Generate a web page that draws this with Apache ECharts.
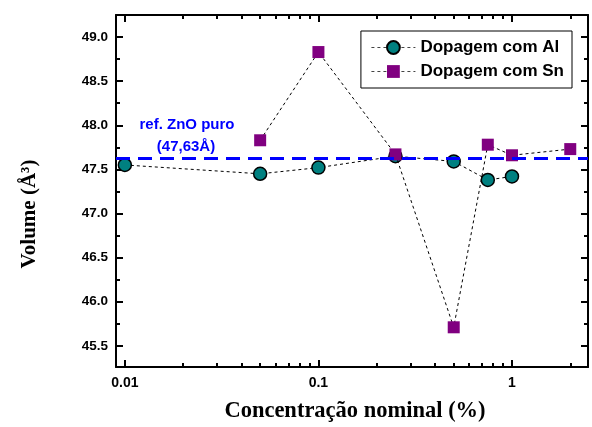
<!DOCTYPE html>
<html>
<head>
<meta charset="utf-8">
<script src="https://cdn.jsdelivr.net/npm/echarts@6/dist/echarts.min.js"></script>
<style>
html,body{margin:0;padding:0;background:#fff;}
#main{width:592px;height:427px;}
</style>
</head>
<body>
<div id="main"></div>
<script>
// dados
var alX = [0.01, 0.05, 0.1, 0.25, 0.5, 0.75, 1];
var alY = [47.55, 47.45, 47.52, 47.65, 47.59, 47.38, 47.42];
var snX = [0.05, 0.1, 0.25, 0.5, 0.75, 1, 2];
var snY = [47.83, 48.83, 47.67, 45.71, 47.78, 47.66, 47.73];
var refZnO = 47.63;

var xMajor = [0.01, 0.1, 1];
var xMinor = [0.02, 0.03, 0.04, 0.05, 0.06, 0.07, 0.08, 0.09,
	0.2, 0.3, 0.4, 0.5, 0.6, 0.7, 0.8, 0.9, 2];
var yMajor = [45.5, 46.0, 46.5, 47.0, 47.5, 48.0, 48.5, 49.0];
var yMinor = [45.75, 46.25, 46.75, 47.25, 47.75, 48.25, 48.75];

var myChart = echarts.init(document.getElementById('main'));

function pairs(xs, ys) {
	var out = [];
	for (var i = 0; i < xs.length; i++) {
		out.push([xs[i], ys[i]]);
	}
	return out;
}

function xAx(pos, ticks, len, showLabel, showLine) {
	return {
		type: 'log',
		logBase: 10,
		position: pos,
		min: 0.009,
		max: 2.47,
		axisLine: {show: showLine, onZero: false, lineStyle: {color: '#000', width: 2}},
		axisTick: {show: true, inside: true, length: len, customValues: ticks,
			lineStyle: {color: '#000', width: 2}},
		axisLabel: {show: showLabel, customValues: xMajor, margin: 9,
			color: '#000', fontFamily: 'Arial', fontWeight: 'bold', fontSize: 14,
			formatter: function (v) { return String(+(+v).toPrecision(3)); }},
		splitLine: {show: false},
		minorTick: {show: false}
	};
}

function yAx(pos, ticks, len, showLabel, showLine) {
	return {
		type: 'value',
		position: pos,
		min: 45.26,
		max: 49.25,
		axisLine: {show: showLine, onZero: false, lineStyle: {color: '#000', width: 2}},
		axisTick: {show: true, inside: true, length: len, customValues: ticks,
			lineStyle: {color: '#000', width: 2}},
		axisLabel: {show: showLabel, customValues: yMajor, margin: 8,
			color: '#000', fontFamily: 'Arial', fontWeight: 'bold', fontSize: 13.5,
			formatter: function (v) { return (+v).toFixed(1); }},
		splitLine: {show: false}
	};
}

var dashed = {color: '#000', width: 1, type: [3, 3]};

option = {
	backgroundColor: '#fff',
	animation: false,
	grid: {left: 116, right: 4, top: 15, bottom: 60},
	legend: {
		right: 20,
		top: 31,
		orient: 'vertical',
		backgroundColor: '#fff',
		borderColor: '#000',
		borderWidth: 1,
		borderRadius: 0,
		padding: [8, 8, 8, 10],
		itemGap: 7,
		itemWidth: 44,
		itemHeight: 16,
		lineStyle: {color: '#444', width: 1, type: [3, 3]},
		textStyle: {color: '#000', fontFamily: 'Arial', fontWeight: 'bold', fontSize: 17},
		data: ['Dopagem com Al', 'Dopagem com Sn']
	},
	graphic: [
		{
			type: 'text', z: 10,
			style: {text: 'ref. ZnO puro', x: 187, y: 125, align: 'center', verticalAlign: 'middle',
				fill: '#0000ff', font: 'bold 15px Arial'}
		},
		{
			type: 'text', z: 10,
			style: {text: '(47,63Å)', x: 186, y: 147, align: 'center', verticalAlign: 'middle',
				fill: '#0000ff', font: 'bold 15px Arial'}
		},
		{
			type: 'text', z: 10, x: 30, y: 214, rotation: Math.PI / 2,
			style: {text: 'Volume (Å³)', align: 'center', verticalAlign: 'middle',
				fill: '#000', font: 'bold 21px "Liberation Serif", "Times New Roman", serif'}
		},
		{
			type: 'text', z: 10,
			style: {text: 'Concentração nominal (%)', x: 355, y: 411, align: 'center', verticalAlign: 'middle',
				fill: '#000', font: 'bold 22.5px "Liberation Serif", "Times New Roman", serif'}
		}
	],
	xAxis: [
		xAx('bottom', xMajor, 7, true, true),
		xAx('bottom', xMinor, 4, false, false),
		xAx('top', xMajor, 7, false, true),
		xAx('top', xMinor, 4, false, false)
	],
	yAxis: [
		yAx('left', yMajor, 7, true, true),
		yAx('left', yMinor, 4, false, false),
		yAx('right', yMajor, 7, false, true),
		yAx('right', yMinor, 4, false, false)
	],
	series: [
		{
			name: 'ref',
			type: 'line',
			z: 1,
			data: [],
			markLine: {
				silent: true,
				symbol: 'none',
				label: {show: false},
				lineStyle: {color: '#0000ff', width: 3, type: [14, 8]},
				data: [{yAxis: refZnO}]
			}
		},
		{
			name: 'Dopagem com Al',
			type: 'line',
			z: 3,
			symbol: 'circle',
			symbolSize: 13,
			lineStyle: dashed,
			itemStyle: {color: '#008080', borderColor: '#000', borderWidth: 1.5},
			data: pairs(alX, alY)
		},
		{
			name: 'Dopagem com Sn',
			type: 'line',
			z: 4,
			symbol: 'rect',
			symbolSize: 12,
			lineStyle: dashed,
			itemStyle: {color: '#800080'},
			data: pairs(snX, snY)
		}
	]
};

myChart.setOption(option);
window.addEventListener("resize", function () {
	myChart.resize();
});
</script>
</body>
</html>
